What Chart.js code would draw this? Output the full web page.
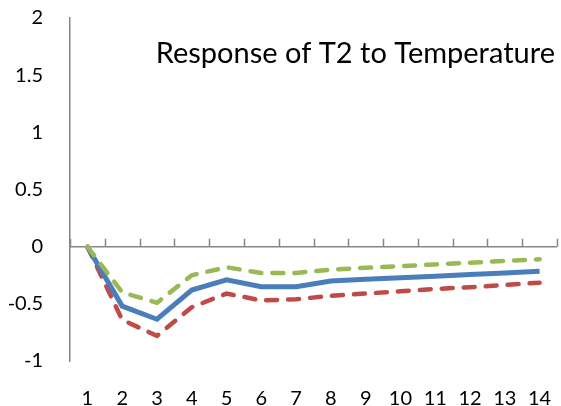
<!DOCTYPE html>
<html>
<head>
<meta charset="utf-8">
<script src="https://cdn.jsdelivr.net/npm/chart.js@4/dist/chart.umd.min.js"></script>
<style>
  html, body { margin: 0; padding: 0; background: #ffffff; }
  #wrap { width: 561px; height: 406px; }
</style>
</head>
<body>
<div id="wrap"><canvas id="c" width="561" height="406"></canvas></div>
<script>
const categories = ['1','2','3','4','5','6','7','8','9','10','11','12','13','14'];
const responseValues = [0, -0.52, -0.635, -0.38, -0.29, -0.35, -0.35, -0.30, -0.286, -0.272, -0.258, -0.244, -0.23, -0.215];
const upperBand = [0, -0.40, -0.49, -0.25, -0.18, -0.23, -0.23, -0.20, -0.185, -0.17, -0.155, -0.14, -0.125, -0.11];
const lowerBand = [0, -0.64, -0.78, -0.53, -0.41, -0.47, -0.46, -0.43, -0.41, -0.39, -0.37, -0.355, -0.335, -0.315];
const yTicks = [-1, -0.5, 0, 0.5, 1, 1.5, 2];
const panelLabel = 'Response of T2 to Temperature';

const FONT = 'Lato, "Open Sans", sans-serif';

function zeroPad(scale) {
  scale.paddingTop = 0;
  scale.paddingBottom = 0;
  scale.paddingLeft = 0;
  scale.paddingRight = 0;
}

const zeroAxisPlugin = {
  id: 'zeroAxis',
  beforeDatasetsDraw(chart) {
    const { ctx, chartArea, scales } = chart;
    const y0 = scales.y.getPixelForValue(0);
    const n = categories.length;
    const w = (chartArea.right - chartArea.left) / n;
    ctx.save();
    ctx.strokeStyle = '#868686';
    ctx.lineWidth = 1.5;
    ctx.beginPath();
    ctx.moveTo(chartArea.left, y0);
    ctx.lineTo(chartArea.right, y0);
    for (let i = 0; i <= n; i++) {
      const x = Math.round(chartArea.left + i * w) + 0.5;
      ctx.moveTo(x, y0);
      ctx.lineTo(x, y0 - 8);
    }
    ctx.stroke();
    ctx.restore();
  },
  afterDraw(chart) {
    const { ctx } = chart;
    ctx.save();
    ctx.fillStyle = '#000000';
    ctx.font = '29px ' + FONT;
    ctx.textAlign = 'right';
    ctx.textBaseline = 'alphabetic';
    ctx.fillText(panelLabel, 555, 63);
    ctx.restore();
  }
};

new Chart(document.getElementById('c'), {
  type: 'line',
  data: {
    labels: categories,
    datasets: [
      {
        label: 'Upper',
        data: upperBand,
        borderColor: '#98B954',
        borderWidth: 4.5,
        borderDash: [11, 11],
        borderCapStyle: 'round',
        pointRadius: 0,
        tension: 0,
        fill: false
      },
      {
        label: 'Response',
        data: responseValues,
        borderColor: '#4A7EBB',
        borderWidth: 5,
        pointRadius: 0,
        tension: 0,
        fill: false
      },
      {
        label: 'Lower',
        data: lowerBand,
        borderColor: '#BE4B48',
        borderWidth: 4.5,
        borderDash: [11, 11],
        borderCapStyle: 'round',
        pointRadius: 0,
        tension: 0,
        fill: false
      }
    ]
  },
  options: {
    responsive: false,
    animation: false,
    devicePixelRatio: 1,
    layout: { padding: { top: 18, right: 4, left: 0, bottom: 0 } },
    plugins: {
      legend: { display: false },
      title: { display: false },
      tooltip: { enabled: false }
    },
    scales: {
      x: {
        type: 'category',
        offset: true,
        grid: { display: false, drawTicks: false },
        border: { display: false },
        ticks: {
          color: '#000000',
          font: { family: FONT, size: 20 },
          padding: 26,
          maxRotation: 0,
          autoSkip: false
        },
        afterFit(scale) { scale.height = 45; zeroPad(scale); }
      },
      y: {
        min: -1,
        max: 2,
        afterBuildTicks(scale) { scale.ticks = yTicks.map(v => ({ value: v })); },
        grid: { display: false, drawTicks: false },
        border: { display: true, color: '#868686', width: 1.5 },
        ticks: {
          color: '#000000',
          font: { family: FONT, size: 20 },
          padding: 27,
          callback: v => String(v)
        },
        afterFit(scale) { scale.width = 70; zeroPad(scale); }
      }
    }
  },
  plugins: [zeroAxisPlugin]
});
</script>
</body>
</html>
